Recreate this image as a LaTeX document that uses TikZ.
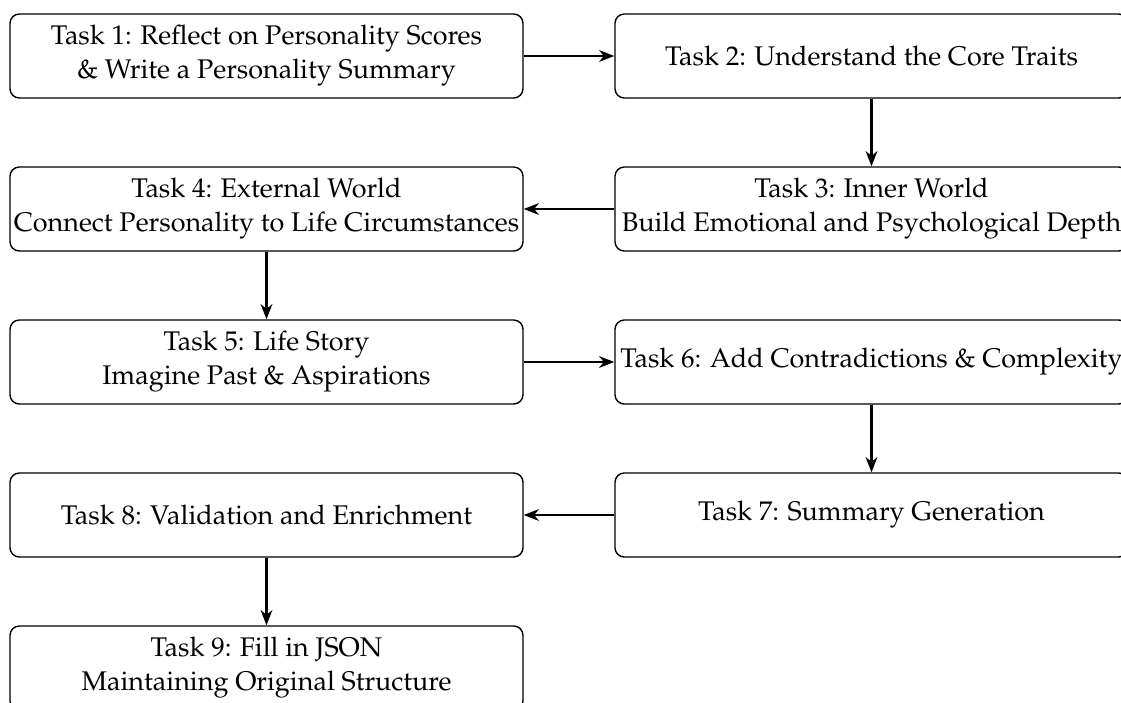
\documentclass[tikz,border=0pt]{standalone}
\usepackage[T1]{fontenc}
\usepackage{mathpazo}
\usetikzlibrary{arrows.meta}
\begin{document}
\def\px{0.43pt}
\begin{tikzpicture}[x=\px, y=-\px,
  taskbox/.style={draw, rounded corners=4pt, line width=0.6pt,
    minimum width=513*\px, minimum height=84*\px,
    align=center, inner sep=0pt, font=\fontsize{11.6}{14.6}\selectfont},
  flow/.style={-{Stealth[length=6.5pt,width=5pt,inset=2pt]}, line width=1.1pt}]
  \useasboundingbox (0,0) rectangle (1121,702);
  \clip (0,0) rectangle (1121,702);

  % left column centre 266.5, right column centre 871.5, rows 153 apart
  \node[taskbox] (t1) at (266.5,56)  {Task 1: Reflect on Personality Scores\\ \& Write a Personality Summary};
  \node[taskbox] (t2) at (871.5,56)  {Task 2: Understand the Core Traits};
  \node[taskbox] (t3) at (871.5,209) {Task 3: Inner World\\ Build Emotional and Psychological Depth};
  \node[taskbox] (t4) at (266.5,209) {Task 4: External World\\ Connect Personality to Life Circumstances};
  \node[taskbox] (t5) at (266.5,362) {Task 5: Life Story\\ Imagine Past \& Aspirations};
  \node[taskbox] (t6) at (871.5,362) {Task 6: Add Contradictions \& Complexity};
  \node[taskbox] (t7) at (871.5,515) {Task 7: Summary Generation};
  \node[taskbox] (t8) at (266.5,515) {Task 8: Validation and Enrichment};
  \node[taskbox] (t9) at (266.5,668) {Task 9: Fill in JSON\\ Maintaining Original Structure};

  \draw[flow] (t1) -- (t2);
  \draw[flow] (t2) -- (t3);
  \draw[flow] (t3) -- (t4);
  \draw[flow] (t4) -- (t5);
  \draw[flow] (t5) -- (t6);
  \draw[flow] (t6) -- (t7);
  \draw[flow] (t7) -- (t8);
  \draw[flow] (t8) -- (t9);
\end{tikzpicture}
\end{document}
